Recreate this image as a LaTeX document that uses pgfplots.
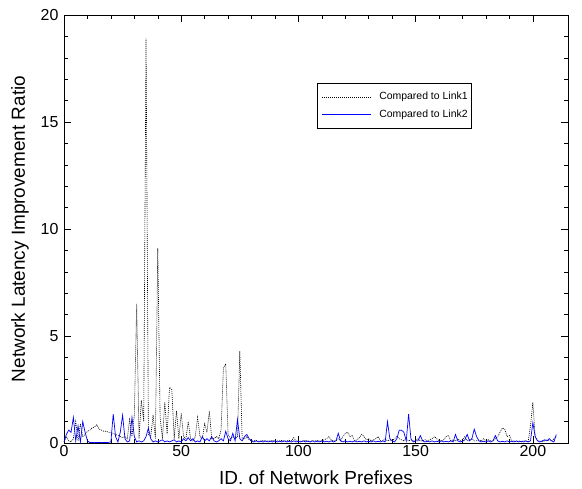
\documentclass[border=0pt]{standalone}
\usepackage{fontspec}
\setmainfont{Liberation Sans}
\usepackage{pgfplots}
\pgfplotsset{compat=1.18}

\pgfplotstableread{
x y
0 0.05
1 0.3
2 0.1
3 0.05
4 0.2
5 1.0
6 0.1
7 0.9
8 0.3
9 0.4
10 0.55
11 0.6
12 0.7
13 0.75
14 0.85
15 0.65
16 0.6
17 0.55
18 0.55
19 0.5
20 0.5
21 0.45
22 0.4
23 0.35
24 0.3
25 0.25
26 0.3
27 0.2
28 1.1
29 0.3
30 1.3
31 6.5
32 0.2
33 2.0
34 1.0
35 18.9
36 0.4
37 0.3
38 1.3
39 0.2
40 9.1
41 1.2
42 0.2
43 1.9
44 0.4
45 2.6
46 2.5
47 0.2
48 1.5
49 0.2
50 1.4
51 0.3
52 0.2
53 1.0
54 0.2
55 0.1
56 0.3
57 1.2
58 0.3
59 0.2
60 0.9
61 0.5
62 1.5
63 0.2
64 0.2
65 0.3
66 0.2
67 0.6
68 3.5
69 3.7
70 0.4
71 0.2
72 0.3
73 0.2
74 0.3
75 4.3
76 0.2
77 0.2
78 0.3
79 0.15
80 0.1
81 0.1
82 0.12
83 0.08
84 0.1
85 0.12
86 0.08
87 0.1
88 0.1
89 0.12
90 0.08
91 0.1
92 0.1
93 0.12
94 0.08
95 0.1
96 0.12
97 0.1
98 0.25
99 0.1
100 0.1
101 0.08
102 0.1
103 0.12
104 0.1
105 0.08
106 0.1
107 0.1
108 0.12
109 0.1
110 0.1
111 0.15
112 0.2
113 0.3
114 0.15
115 0.1
116 0.1
117 0.2
118 0.1
119 0.3
120 0.45
121 0.5
122 0.3
123 0.35
124 0.1
125 0.15
126 0.25
127 0.4
128 0.3
129 0.15
130 0.2
131 0.1
132 0.15
133 0.2
134 0.3
135 0.1
136 0.1
137 0.2
138 0.1
139 0.15
140 0.1
141 0.2
142 0.3
143 0.2
144 0.15
145 0.1
146 0.2
147 0.1
148 0.15
149 0.1
150 0.1
151 0.2
152 0.1
153 0.1
154 0.15
155 0.1
156 0.15
157 0.2
158 0.3
159 0.2
160 0.1
161 0.1
162 0.15
163 0.3
164 0.35
165 0.1
166 0.15
167 0.1
168 0.2
169 0.1
170 0.15
171 0.3
172 0.1
173 0.15
174 0.2
175 0.1
176 0.1
177 0.15
178 0.1
179 0.2
180 0.1
181 0.15
182 0.1
183 0.1
184 0.2
185 0.3
186 0.5
187 0.7
188 0.65
189 0.3
190 0.35
191 0.1
192 0.1
193 0.05
194 0.1
195 0.05
196 0.1
197 0.1
198 0.05
199 0.8
200 1.9
201 0.3
202 0.1
203 0.1
204 0.05
205 0.1
206 0.15
207 0.1
208 0.1
209 0.2
210 0.3
}\linkone

\pgfplotstableread{
x y
0 0.05
1 0.4
2 0.6
3 0.5
4 1.2
5 0.1
6 0.8
7 0.05
8 1.0
9 0.5
10 0.1
11 0.02
12 0.02
13 0.03
14 0.02
15 0.02
16 0.03
17 0.02
18 0.02
19 0.03
20 0.05
21 1.35
22 0.3
23 0.05
24 0.5
25 1.3
26 0.2
27 0.05
28 0.1
29 1.2
30 0.3
31 0.05
32 0.1
33 0.05
34 0.1
35 0.3
36 0.7
37 0.2
38 0.05
39 0.1
40 0.05
41 0.1
42 0.15
43 0.05
44 0.1
45 0.05
46 0.1
47 0.15
48 0.05
49 0.1
50 0.05
51 0.2
52 0.1
53 0.25
54 0.1
55 0.2
56 0.05
57 0.1
58 0.05
59 0.3
60 0.1
61 0.2
62 0.1
63 0.3
64 0.1
65 0.05
66 0.1
67 0.2
68 0.1
69 0.55
70 0.2
71 0.1
72 0.45
73 0.1
74 1.1
75 0.2
76 0.1
77 0.3
78 0.4
79 0.2
80 0.1
81 0.05
82 0.1
83 0.05
84 0.08
85 0.05
86 0.1
87 0.05
88 0.08
89 0.05
90 0.1
91 0.05
92 0.08
93 0.05
94 0.1
95 0.05
96 0.08
97 0.05
98 0.1
99 0.05
100 0.08
101 0.05
102 0.1
103 0.05
104 0.08
105 0.05
106 0.1
107 0.05
108 0.08
109 0.05
110 0.1
111 0.05
112 0.08
113 0.05
114 0.1
115 0.05
116 0.1
117 0.45
118 0.1
119 0.05
120 0.1
121 0.05
122 0.08
123 0.05
124 0.1
125 0.05
126 0.08
127 0.05
128 0.1
129 0.05
130 0.08
131 0.05
132 0.1
133 0.05
134 0.08
135 0.05
136 0.1
137 0.05
138 1.0
139 0.2
140 0.1
141 0.05
142 0.2
143 0.6
144 0.6
145 0.5
146 0.1
147 1.35
148 0.2
149 0.05
150 0.1
151 0.1
152 0.35
153 0.1
154 0.05
155 0.08
156 0.05
157 0.1
158 0.05
159 0.08
160 0.05
161 0.1
162 0.05
163 0.08
164 0.05
165 0.1
166 0.05
167 0.4
168 0.1
169 0.05
170 0.08
171 0.15
172 0.4
173 0.1
174 0.2
175 0.65
176 0.3
177 0.1
178 0.05
179 0.08
180 0.05
181 0.1
182 0.05
183 0.1
184 0.35
185 0.1
186 0.05
187 0.08
188 0.05
189 0.1
190 0.05
191 0.08
192 0.05
193 0.1
194 0.05
195 0.08
196 0.05
197 0.1
198 0.05
199 0.1
200 0.95
201 0.3
202 0.1
203 0.05
204 0.1
205 0.15
206 0.1
207 0.2
208 0.1
209 0.05
210 0.4
}\linktwo

\begin{document}
\begin{tikzpicture}
\path[use as bounding box] (-64bp,-46bp) rectangle (518bp,443bp);
\begin{axis}[
  scale only axis, width=504bp, height=428bp,
  xmin=0, xmax=215, ymin=0, ymax=20,
  xtick={0,50,100,150,200}, ytick={0,5,10,15,20},
  minor x tick num=4, minor y tick num=4,
  tick align=inside, major tick length=7bp, minor tick length=4bp,
  tick style={black, line width=0.5bp},
  axis line style={line width=0.6bp},
  /pgf/number format/assume math mode=true,
  tick label style={font=\fontsize{16}{18}\selectfont},
  xticklabel style={yshift=1bp},
  yticklabel style={xshift=-2bp},
  label style={font=\fontsize{19}{22}\selectfont},
  xlabel={ID. of Network Prefixes},
  ylabel={Network Latency Improvement Ratio},
  xlabel style={yshift=-7bp},
  ylabel style={yshift=5bp},
  legend cell align=left,
  legend style={at={(rel axis cs:0.502,0.841)}, anchor=north west,
    draw=black, line width=0.5bp, font=\fontsize{10.5}{12.5}\selectfont,
    inner xsep=2bp, inner ysep=7bp, row sep=5bp},
]
\addplot[draw=black, line width=0.6bp, dash pattern=on 1bp off 1bp,
  legend image code/.code={\draw[black, line width=0.6bp, dash pattern=on 1bp off 1bp] (3bp,0bp) -- (52bp,0bp);
    \path[draw=none] (0bp,0bp) -- (58bp,0bp);}] table[x=x,y=y] {\linkone};
\addlegendentry{Compared to Link1}
\addplot[draw=blue, line width=0.7bp,
  legend image code/.code={\draw[blue, line width=0.8bp] (3bp,0bp) -- (52bp,0bp);
    \path[draw=none] (0bp,0bp) -- (58bp,0bp);}] table[x=x,y=y] {\linktwo};
\addlegendentry{Compared to Link2}
\end{axis}
\end{tikzpicture}
\end{document}
